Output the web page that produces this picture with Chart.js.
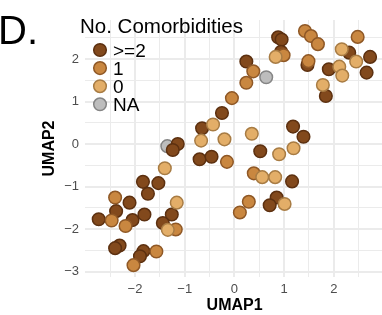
<!DOCTYPE html>
<html>
<head>
<meta charset="utf-8">
<script src="https://cdn.jsdelivr.net/npm/chart.js@4.4.0/dist/chart.umd.min.js"></script>
<style>
  html, body { margin: 0; padding: 0; background: #fff; overflow: hidden; }
  #wrap { width: 382px; height: 315px; overflow: hidden; position: relative; }
</style>
</head>
<body>
<div id="wrap"><canvas id="umap" width="392" height="315"></canvas></div>
<script>
// legend / groups
const groups = ['>=2', '1', '0', 'NA'];
const fills = ['#82491c', '#c98740', '#e3ae68', '#bdbdbd'];
const strokes = ['#5c3010', '#8f5826', '#a87c44', '#858585'];

const xTicks = [-2, -1, 0, 1, 2];
const yTicks = [-3, -2, -1, 0, 1, 2];

// [UMAP1, UMAP2] per comorbidity group
const comorbMany = [
  [-1.14, 0.00], [-1.24, -0.14], [-1.84, -0.89], [-1.53, -0.92], [-1.74, -1.17],
  [-2.11, -1.38], [-2.73, -1.77], [-2.38, -1.58], [-2.05, -1.79], [-1.81, -1.66],
  [-1.26, -1.66], [-1.44, -1.86], [-2.31, -2.39], [-2.40, -2.45], [-1.83, -2.52],
  [-1.90, -2.64], [-0.65, 0.37], [-0.70, -0.36], [-0.46, -0.30], [0.52, -0.17],
  [1.18, 0.41], [1.39, 0.17], [1.16, -0.88], [0.85, -1.26], [0.71, -1.44],
  [0.88, 2.51], [0.95, 2.46], [0.94, 2.17], [0.24, 1.94], [-0.25, 0.73],
  [1.47, 1.86], [1.90, 1.76], [2.31, 2.15], [2.73, 2.05], [2.66, 1.68], [1.84, 1.13]
];
const comorbOne = [
  [-2.40, -1.26], [-2.47, -1.80], [-2.19, -1.93], [-1.18, -2.01], [-1.57, -2.53],
  [-2.03, -2.85], [-0.15, -0.42], [0.39, -0.69], [0.29, -1.36], [0.11, -1.61],
  [0.38, 1.71], [0.24, 1.44], [-0.05, 1.08], [0.99, 2.09], [1.42, 2.66],
  [1.54, 2.54], [1.68, 2.35], [1.49, 1.95], [2.48, 2.52]
];
const comorbNone = [
  [-1.40, -0.57], [-1.16, -1.38], [-1.34, -2.02], [-0.67, 0.08], [-0.43, 0.46],
  [-0.20, 0.11], [0.35, 0.24], [0.90, -0.24], [1.19, -0.10], [0.56, -0.78],
  [0.82, -0.78], [1.01, -1.41], [0.83, 2.05], [2.11, 1.82], [2.17, 1.61],
  [2.16, 2.23], [2.45, 1.94], [1.78, 1.39]
];
const comorbNA = [[-1.35, -0.05], [0.64, 1.57]];

const FONT = "'Liberation Sans', Arial, Helvetica, sans-serif";
Chart.defaults.font.family = FONT;

const toPts = arr => arr.map(p => ({ x: p[0], y: p[1] }));
function ds(i, arr) {
  return {
    label: groups[i],
    data: toPts(arr),
    backgroundColor: fills[i],
    borderColor: strokes[i],
    borderWidth: 1.5,
    pointRadius: 6.3,
    pointHoverRadius: 6.3
  };
}

// major ticks plus half steps for the minor grid
function gridValues(major, min, max) {
  const out = [];
  major.forEach(v => { out.push(v - 0.5, v, v + 0.5); });
  return [...new Set(out)].filter(v => v >= min && v <= max).sort((a, b) => a - b);
}
const fmt = v => (v < 0 ? '\u2212' + Math.abs(v) : '' + v);

function axis(major, min, max, title, extra) {
  return Object.assign({
    type: 'linear',
    min: min,
    max: max,
    afterBuildTicks: s => { s.ticks = gridValues(major, min, max).map(v => ({ value: v })); },
    ticks: {
      autoSkip: false,
      maxRotation: 0,
      color: '#4d4d4d',
      font: { size: 13 },
      callback: v => (Number.isInteger(v) ? fmt(v) : '')
    },
    grid: {
      drawTicks: false,
      color: '#ebebeb',
      lineWidth: c => (c.tick && Number.isInteger(c.tick.value) ? 2 : 1)
    },
    border: { display: false },
    title: { display: true, text: title, color: '#000', font: { size: 16, weight: 'bold' } }
  }, extra);
}

const xScale = axis(xTicks, -3.006, 3.014, 'UMAP1', {
  afterFit: s => { s.height = 38; }
});
xScale.ticks.padding = 5;
xScale.title.padding = { top: 0, bottom: 0 };

const yScale = axis(yTicks, -3.129, 2.918, 'UMAP2', {
  afterFit: s => { s.width = 85; }
});
yScale.ticks.padding = 6;
yScale.title.padding = { top: 40, bottom: 0 };

const overlay = {
  id: 'overlay',
  afterDraw(chart) {
    const ctx = chart.ctx;
    ctx.save();
    ctx.fillStyle = '#000';
    ctx.textBaseline = 'alphabetic';
    ctx.textAlign = 'left';
    ctx.font = '40px ' + FONT;
    ctx.fillText('D.', -2, 44);

    ctx.font = '20.5px ' + FONT;
    ctx.fillText('No. Comorbidities', 80, 33);

    ctx.font = '19px ' + FONT;
    groups.forEach((g, i) => {
      const cy = 50 + i * 18.1;
      ctx.beginPath();
      ctx.arc(100, cy, 6.3, 0, Math.PI * 2);
      ctx.fillStyle = fills[i];
      ctx.fill();
      ctx.lineWidth = 1.5;
      ctx.strokeStyle = strokes[i];
      ctx.stroke();
      ctx.fillStyle = '#000';
      ctx.fillText(g, 113, cy + 6.8);
    });
    ctx.restore();
  }
};

new Chart(document.getElementById('umap'), {
  type: 'scatter',
  data: {
    datasets: [
      ds(2, comorbNone),
      ds(1, comorbOne),
      ds(0, comorbMany),
      ds(3, comorbNA)
    ]
  },
  options: {
    responsive: false,
    animation: false,
    devicePixelRatio: 1,
    layout: { padding: { top: 20, left: 0, right: 0, bottom: 0 } },
    plugins: { legend: { display: false }, tooltip: { enabled: false } },
    scales: { x: xScale, y: yScale }
  },
  plugins: [overlay]
});
</script>
</body>
</html>
